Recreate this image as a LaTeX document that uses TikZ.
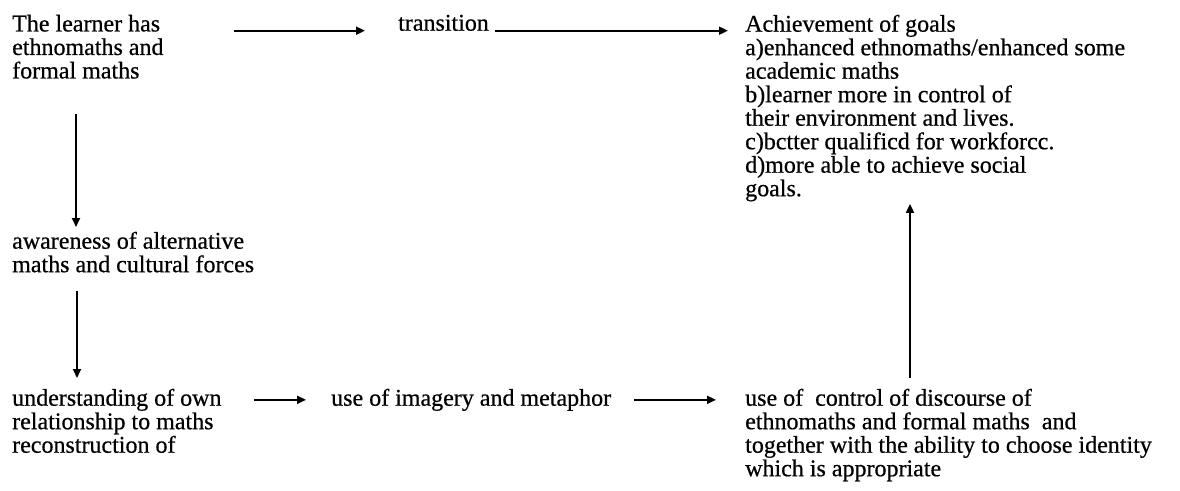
\documentclass[tikz,border=0pt]{standalone}
\usepackage{fontspec}
\setmainfont{Liberation Serif}
\usetikzlibrary{arrows.meta,positioning}

\begin{document}
\begin{tikzpicture}[x=1pt,y=-1pt,
    every node/.style={anchor=north west,inner sep=0pt,align=left,font=\fontsize{24}{23.5}\selectfont\addfontfeatures{FakeBold=0.6}},
    flow/.style={-{Triangle[length=9pt,width=8pt]},line width=1.8pt}]
    \useasboundingbox (0,0) rectangle (1180,490);
    \node (learner) at (12,14.6) {The learner has\\ethnomaths and\\formal maths};
    \node (trans) at (398,14.6) {transition};
    \node (goals) at (745,14.6) {Achievement of goals\\a)enhanced ethnomaths/enhanced some\\academic maths\\b)learner more in control of\\their environment and lives.\\c)bctter qualificd for workforcc.\\d)more able to achieve social\\goals.};
    \node (aware) at (12,231.6) {awareness of alternative\\maths and cultural forces};
    \node (underst) at (12,388.6) {understanding of own\\relationship to maths\\reconstruction of};
    \node (imagery) at (331,388.6) {use of imagery and metaphor};
    \node (discourse) at (745,388.6) {use of~ control of discourse of\\ethnomaths and formal maths~ and\\together with the ability to choose identity\\which is appropriate};
    \draw[flow,shorten <=70pt,shorten >=33pt] (learner.east |- trans.base) -- (trans.base west);
    \draw[flow,shorten <=6pt,shorten >=17pt] (trans.base east) -- (goals.west |- trans.base);
    \draw[flow,shorten <=35pt,shorten >=4.6pt] ([xshift=64pt]learner.south west) -- ([xshift=64pt]aware.north west);
    \draw[flow,shorten <=18.5pt,shorten >=10.6pt] ([xshift=65pt]aware.south west) -- ([xshift=65pt]underst.north west);
    \draw[flow,shorten <=32pt,shorten >=25pt] (underst.east |- imagery.center) -- (imagery.west);
    \draw[flow,shorten <=23pt,shorten >=29pt] (imagery.east) -- (discourse.west |- imagery.east);
    \draw[flow,shorten <=10.6pt,shorten >=2.3pt] ([xshift=165pt]discourse.north west) -- ([xshift=165pt]goals.south west);
\end{tikzpicture}
\end{document}
